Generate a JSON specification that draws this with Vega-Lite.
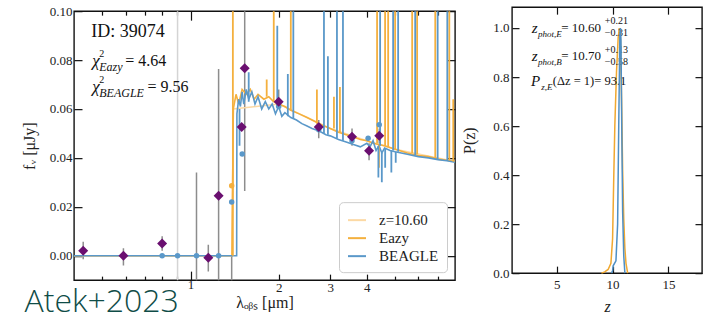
{
  "$schema": "https://vega.github.io/schema/vega-lite/v6.json",
  "background": "white",
  "padding": {"left": 20, "top": 4, "right": 5, "bottom": 4},
  "spacing": 4,
  "center": true,
  "resolve": {"scale": {"color": "independent"}, "legend": {"color": "independent"}},
  "title": {"text": "Atek+2023", "orient": "bottom", "anchor": "start", "frame": "bounds", "font": "Open Sans", "fontWeight": 300, "fontSize": 32, "color": "#0f4c47", "offset": -28, "dx": 4},
  "config": {
    "font": "Liberation Serif",
    "view": {"stroke": "#111111", "strokeWidth": 1.4},
    "axis": {"domain": false, "grid": false, "tickColor": "#111111", "tickWidth": 1.2, "labelFont": "Liberation Serif", "labelFontSize": 13, "labelColor": "#222222", "titleFont": "Liberation Serif", "titleFontSize": 16, "titleFontWeight": "normal", "titleColor": "#222222", "labelPadding": 10},
    "legend": {"orient": "bottom-right", "offset": 8, "fillColor": "white", "strokeColor": "#cccccc", "cornerRadius": 4, "padding": 8, "symbolType": "stroke", "symbolSize": 324, "symbolStrokeWidth": 2, "labelFont": "Liberation Serif", "labelFontSize": 15, "labelColor": "#222222", "labelOffset": 12, "rowPadding": 0}
  },
  "hconcat": [
    {
      "width": 381,
      "height": 269,
      "layer": [
        {
          "encoding": {
            "x": {"field": "lam", "type": "quantitative", "scale": {"type": "log", "domain": [0.4, 8], "nice": false},
              "axis": {"orient": "bottom", "values": [0.5, 0.6, 0.7, 0.8, 0.9, 1, 2, 3, 4, 5, 6, 7], "format": "~g", "labelExpr": "indexof([1,2,3,4], datum.value) >= 0 ? datum.label : ''", "tickSize": {"condition": [{"test": "datum.value == 1", "value": -9}, {"test": "datum.value >= 2 && datum.value <= 4", "value": -6}], "value": -4}, "labelPadding": 7, "title": "λₒᵦₛ [μm]", "titlePadding": 0}},
            "y": {"field": "f", "type": "quantitative", "scale": {"domain": [-0.01, 0.1], "nice": false, "zero": false},
              "axis": {"values": [0, 0.02, 0.04, 0.06, 0.08, 0.1], "format": ".2f", "tickSize": -8, "title": "fᵥ [μJy]", "titlePadding": 12}}
          },
          "layer": [
            {
              "data": {"values": [{"lam": 0.903, "f": -0.03, "f2": 0.13}]},
              "mark": {"type": "rule", "color": "#d4d4d4", "strokeWidth": 1.5, "clip": true},
              "encoding": {"y2": {"field": "f2"}}
            },
            {
              "data": {"values": [
                {"lam": 0.43, "f": -0.0015, "f2": 0.0057},
                {"lam": 0.59, "f": -0.004, "f2": 0.003},
                {"lam": 0.80, "f": 0.002, "f2": 0.008},
                {"lam": 1.048, "f": -0.03, "f2": 0.034},
                {"lam": 1.15, "f": -0.0065, "f2": 0.0045},
                {"lam": 1.247, "f": -0.03, "f2": 0.0763},
                {"lam": 1.382, "f": -0.03, "f2": 0.0},
                {"lam": 1.531, "f": 0.0265, "f2": 0.13},
                {"lam": 2.0, "f": 0.060, "f2": 0.068},
                {"lam": 2.74, "f": 0.048, "f2": 0.0555},
                {"lam": 3.56, "f": 0.045, "f2": 0.052},
                {"lam": 4.07, "f": 0.039, "f2": 0.046},
                {"lam": 4.41, "f": 0.046, "f2": 0.052}
              ]},
              "mark": {"type": "rule", "color": "#8d8d8d", "strokeWidth": 1.5, "clip": true},
              "encoding": {"y2": {"field": "f2"}}
            },
            {
              "data": {"values": [
                {"s": "z=10.60", "lam": 0.4, "f": 0.0},
                {"s": "z=10.60", "lam": 1.385, "f": 0.0},
                {"s": "z=10.60", "lam": 1.40, "f": 0.060},
                {"s": "z=10.60", "lam": 2.0, "f": 0.062},
                {"s": "z=10.60", "lam": 3.0, "f": 0.052},
                {"s": "z=10.60", "lam": 4.0, "f": 0.047},
                {"s": "z=10.60", "lam": 5.0, "f": 0.0435},
                {"s": "z=10.60", "lam": 8.0, "f": 0.0385},
                {"s": "Eazy", "lam": 0.4, "f": 0.0},
                {"s": "Eazy", "lam": 1.385, "f": 0.0},
                {"s": "Eazy", "lam": 1.40, "f": 0.060},
                {"s": "Eazy", "lam": 1.43, "f": 0.066},
                {"s": "Eazy", "lam": 1.46, "f": 0.062},
                {"s": "Eazy", "lam": 1.50, "f": 0.068},
                {"s": "Eazy", "lam": 1.55, "f": 0.066},
                {"s": "Eazy", "lam": 1.60, "f": 0.068},
                {"s": "Eazy", "lam": 1.65, "f": 0.064},
                {"s": "Eazy", "lam": 1.70, "f": 0.066},
                {"s": "Eazy", "lam": 1.78, "f": 0.064},
                {"s": "Eazy", "lam": 1.85, "f": 0.065},
                {"s": "Eazy", "lam": 1.92, "f": 0.063},
                {"s": "Eazy", "lam": 2.0, "f": 0.062},
                {"s": "Eazy", "lam": 2.1, "f": 0.061},
                {"s": "Eazy", "lam": 2.2, "f": 0.0595},
                {"s": "Eazy", "lam": 2.35, "f": 0.058},
                {"s": "Eazy", "lam": 2.5, "f": 0.0565},
                {"s": "Eazy", "lam": 2.65, "f": 0.055},
                {"s": "Eazy", "lam": 2.8, "f": 0.0535},
                {"s": "Eazy", "lam": 3.0, "f": 0.052},
                {"s": "Eazy", "lam": 3.2, "f": 0.0505},
                {"s": "Eazy", "lam": 3.4, "f": 0.0495},
                {"s": "Eazy", "lam": 3.6, "f": 0.0485},
                {"s": "Eazy", "lam": 3.8, "f": 0.0475},
                {"s": "Eazy", "lam": 4.0, "f": 0.047},
                {"s": "Eazy", "lam": 4.2, "f": 0.046},
                {"s": "Eazy", "lam": 4.4, "f": 0.0455},
                {"s": "Eazy", "lam": 4.6, "f": 0.045},
                {"s": "Eazy", "lam": 5.0, "f": 0.0435},
                {"s": "Eazy", "lam": 5.5, "f": 0.042},
                {"s": "Eazy", "lam": 6.0, "f": 0.041},
                {"s": "Eazy", "lam": 6.5, "f": 0.0405},
                {"s": "Eazy", "lam": 7.0, "f": 0.0395},
                {"s": "Eazy", "lam": 7.5, "f": 0.039},
                {"s": "Eazy", "lam": 8.0, "f": 0.0385},
                {"s": "BEAGLE", "lam": 0.4, "f": 0.0},
                {"s": "BEAGLE", "lam": 1.437, "f": 0.0},
                {"s": "BEAGLE", "lam": 1.44, "f": 0.058},
                {"s": "BEAGLE", "lam": 1.46, "f": 0.064},
                {"s": "BEAGLE", "lam": 1.48, "f": 0.061},
                {"s": "BEAGLE", "lam": 1.50, "f": 0.067},
                {"s": "BEAGLE", "lam": 1.52, "f": 0.062},
                {"s": "BEAGLE", "lam": 1.55, "f": 0.068},
                {"s": "BEAGLE", "lam": 1.58, "f": 0.064},
                {"s": "BEAGLE", "lam": 1.62, "f": 0.067},
                {"s": "BEAGLE", "lam": 1.66, "f": 0.062},
                {"s": "BEAGLE", "lam": 1.70, "f": 0.065},
                {"s": "BEAGLE", "lam": 1.75, "f": 0.060},
                {"s": "BEAGLE", "lam": 1.80, "f": 0.063},
                {"s": "BEAGLE", "lam": 1.85, "f": 0.060},
                {"s": "BEAGLE", "lam": 1.90, "f": 0.062},
                {"s": "BEAGLE", "lam": 1.95, "f": 0.058},
                {"s": "BEAGLE", "lam": 2.0, "f": 0.061},
                {"s": "BEAGLE", "lam": 2.05, "f": 0.057},
                {"s": "BEAGLE", "lam": 2.1, "f": 0.0585},
                {"s": "BEAGLE", "lam": 2.2, "f": 0.0565},
                {"s": "BEAGLE", "lam": 2.3, "f": 0.0555},
                {"s": "BEAGLE", "lam": 2.4, "f": 0.054},
                {"s": "BEAGLE", "lam": 2.5, "f": 0.053},
                {"s": "BEAGLE", "lam": 2.6, "f": 0.052},
                {"s": "BEAGLE", "lam": 2.75, "f": 0.051},
                {"s": "BEAGLE", "lam": 2.9, "f": 0.0495},
                {"s": "BEAGLE", "lam": 3.0, "f": 0.049},
                {"s": "BEAGLE", "lam": 3.2, "f": 0.0475},
                {"s": "BEAGLE", "lam": 3.4, "f": 0.0465},
                {"s": "BEAGLE", "lam": 3.6, "f": 0.0455},
                {"s": "BEAGLE", "lam": 3.8, "f": 0.0445},
                {"s": "BEAGLE", "lam": 4.0, "f": 0.046},
                {"s": "BEAGLE", "lam": 4.1, "f": 0.0445},
                {"s": "BEAGLE", "lam": 4.2, "f": 0.047},
                {"s": "BEAGLE", "lam": 4.3, "f": 0.043},
                {"s": "BEAGLE", "lam": 4.4, "f": 0.045},
                {"s": "BEAGLE", "lam": 4.5, "f": 0.042},
                {"s": "BEAGLE", "lam": 4.6, "f": 0.044},
                {"s": "BEAGLE", "lam": 4.8, "f": 0.043},
                {"s": "BEAGLE", "lam": 5.0, "f": 0.0425},
                {"s": "BEAGLE", "lam": 5.5, "f": 0.0415},
                {"s": "BEAGLE", "lam": 6.0, "f": 0.0405},
                {"s": "BEAGLE", "lam": 6.5, "f": 0.040},
                {"s": "BEAGLE", "lam": 7.0, "f": 0.0393},
                {"s": "BEAGLE", "lam": 7.5, "f": 0.0388},
                {"s": "BEAGLE", "lam": 8.0, "f": 0.0382}
              ]},
              "mark": {"type": "line", "strokeWidth": 1.6, "clip": true},
              "encoding": {
                "color": {"field": "s", "type": "nominal", "scale": {"domain": ["z=10.60", "Eazy", "BEAGLE"], "range": ["#fcd9a4", "#f4b03e", "#5a98c9"]}, "legend": {"title": null, "orient": "bottom-right"}},
                "order": {"field": "lam", "type": "quantitative"}
              }
            },
            {
              "data": {"values": [
                {"s": "Eazy", "lam": 1.395, "f": 0.0, "f2": 0.13},
                {"s": "Eazy", "lam": 1.82, "f": 0.065, "f2": 0.072},
                {"s": "Eazy", "lam": 1.924, "f": 0.063, "f2": 0.13},
                {"s": "Eazy", "lam": 2.2, "f": 0.0595, "f2": 0.13},
                {"s": "Eazy", "lam": 2.701, "f": 0.054, "f2": 0.068},
                {"s": "Eazy", "lam": 3.088, "f": 0.052, "f2": 0.065},
                {"s": "Eazy", "lam": 3.237, "f": 0.0505, "f2": 0.069},
                {"s": "Eazy", "lam": 4.335, "f": 0.046, "f2": 0.13},
                {"s": "Eazy", "lam": 4.4, "f": 0.0455, "f2": 0.036},
                {"s": "Eazy", "lam": 4.617, "f": 0.045, "f2": 0.13},
                {"s": "Eazy", "lam": 4.73, "f": 0.0445, "f2": 0.13},
                {"s": "Eazy", "lam": 4.996, "f": 0.0435, "f2": 0.13},
                {"s": "Eazy", "lam": 5.713, "f": 0.042, "f2": 0.13},
                {"s": "Eazy", "lam": 5.94, "f": 0.0415, "f2": 0.13},
                {"s": "Eazy", "lam": 6.85, "f": 0.040, "f2": 0.13},
                {"s": "Eazy", "lam": 7.65, "f": 0.039, "f2": 0.13},
                {"s": "Eazy", "lam": 7.89, "f": 0.0385, "f2": 0.064},
                {"s": "BEAGLE", "lam": 1.47, "f": 0.06, "f2": 0.045},
                {"s": "BEAGLE", "lam": 1.58, "f": 0.063, "f2": 0.075},
                {"s": "BEAGLE", "lam": 1.978, "f": 0.061, "f2": 0.094},
                {"s": "BEAGLE", "lam": 2.149, "f": 0.057, "f2": 0.0743},
                {"s": "BEAGLE", "lam": 2.244, "f": 0.056, "f2": 0.13},
                {"s": "BEAGLE", "lam": 2.855, "f": 0.050, "f2": 0.13},
                {"s": "BEAGLE", "lam": 2.945, "f": 0.0495, "f2": 0.0816},
                {"s": "BEAGLE", "lam": 3.162, "f": 0.048, "f2": 0.13},
                {"s": "BEAGLE", "lam": 3.315, "f": 0.047, "f2": 0.13},
                {"s": "BEAGLE", "lam": 4.38, "f": 0.045, "f2": 0.032},
                {"s": "BEAGLE", "lam": 4.44, "f": 0.045, "f2": 0.13},
                {"s": "BEAGLE", "lam": 4.5, "f": 0.042, "f2": 0.030},
                {"s": "BEAGLE", "lam": 4.62, "f": 0.044, "f2": 0.036},
                {"s": "BEAGLE", "lam": 4.85, "f": 0.043, "f2": 0.034},
                {"s": "BEAGLE", "lam": 4.918, "f": 0.043, "f2": 0.13},
                {"s": "BEAGLE", "lam": 5.02, "f": 0.0425, "f2": 0.038},
                {"s": "BEAGLE", "lam": 5.116, "f": 0.0425, "f2": 0.13},
                {"s": "BEAGLE", "lam": 5.85, "f": 0.041, "f2": 0.13},
                {"s": "BEAGLE", "lam": 6.98, "f": 0.0393, "f2": 0.13},
                {"s": "BEAGLE", "lam": 7.53, "f": 0.0388, "f2": 0.13}
              ]},
              "mark": {"type": "rule", "strokeWidth": 1.8, "clip": true},
              "encoding": {
                "y2": {"field": "f2"},
                "color": {"field": "s", "type": "nominal", "scale": {"domain": ["z=10.60", "Eazy", "BEAGLE"], "range": ["#fcd9a4", "#f4b03e", "#5a98c9"]}}
              }
            },
            {
              "data": {"values": [
                {"s": "BEAGLE", "lam": 0.80, "f": 0.0},
                {"s": "BEAGLE", "lam": 0.903, "f": 0.0},
                {"s": "BEAGLE", "lam": 1.048, "f": 0.0},
                {"s": "BEAGLE", "lam": 1.247, "f": 0.0},
                {"s": "Eazy", "lam": 1.382, "f": 0.0286},
                {"s": "BEAGLE", "lam": 1.382, "f": 0.022},
                {"s": "BEAGLE", "lam": 1.501, "f": 0.0416},
                {"s": "BEAGLE", "lam": 2.0, "f": 0.061},
                {"s": "BEAGLE", "lam": 2.74, "f": 0.0515},
                {"s": "BEAGLE", "lam": 3.56, "f": 0.047},
                {"s": "BEAGLE", "lam": 4.04, "f": 0.048},
                {"s": "BEAGLE", "lam": 4.41, "f": 0.0535}
              ]},
              "mark": {"type": "circle", "size": 30, "opacity": 1, "clip": true},
              "encoding": {
                "color": {"field": "s", "type": "nominal", "scale": {"domain": ["z=10.60", "Eazy", "BEAGLE"], "range": ["#fcd9a4", "#f4b03e", "#5a98c9"]}}
              }
            },
            {
              "data": {"values": [{"lam": 0.458, "f": 0.0914, "t": "ID: 39074"}]},
              "mark": {"type": "text", "align": "left", "baseline": "middle", "font": "Liberation Serif", "fontSize": 18, "color": "#111111"},
              "encoding": {"text": {"field": "t"}}
            },
            {
              "data": {"values": [{"lam": 0.4618, "f": 0.0796, "t": "χ"}, {"lam": 0.4618, "f": 0.069, "t": "χ"}]},
              "mark": {"type": "text", "align": "left", "baseline": "middle", "font": "Liberation Serif", "fontStyle": "italic", "fontSize": 17, "color": "#111111"},
              "encoding": {"text": {"field": "t"}}
            },
            {
              "data": {"values": [{"lam": 0.488, "f": 0.0825, "t": "2"}, {"lam": 0.488, "f": 0.0718, "t": "2"}]},
              "mark": {"type": "text", "align": "left", "baseline": "middle", "font": "Liberation Serif", "fontSize": 10, "color": "#111111"},
              "encoding": {"text": {"field": "t"}}
            },
            {
              "data": {"values": [{"lam": 0.488, "f": 0.0771, "t": "Eazy"}, {"lam": 0.488, "f": 0.0665, "t": "BEAGLE"}]},
              "mark": {"type": "text", "align": "left", "baseline": "middle", "font": "Liberation Serif", "fontStyle": "italic", "fontSize": 12, "color": "#111111"},
              "encoding": {"text": {"field": "t"}}
            },
            {
              "data": {"values": [{"lam": 0.5989, "f": 0.0796, "t": "= 4.64"}, {"lam": 0.7123, "f": 0.069, "t": "= 9.56"}]},
              "mark": {"type": "text", "align": "left", "baseline": "middle", "font": "Liberation Serif", "fontSize": 16, "color": "#111111"},
              "encoding": {"text": {"field": "t"}}
            }
          ]
        },
        {
          "data": {"values": [
            {"lam": 0.43, "f": 0.002}, {"lam": 0.59, "f": 0.0}, {"lam": 0.80, "f": 0.005},
            {"lam": 1.15, "f": -0.0008}, {"lam": 1.247, "f": 0.0245}, {"lam": 1.495, "f": 0.0526},
            {"lam": 1.531, "f": 0.0767}, {"lam": 2.0, "f": 0.063}, {"lam": 2.74, "f": 0.0526},
            {"lam": 3.56, "f": 0.0486}, {"lam": 4.07, "f": 0.0429}, {"lam": 4.41, "f": 0.049}
          ]},
          "mark": {"type": "point", "shape": "diamond", "filled": true, "color": "#6a0f70", "size": 100, "opacity": 1, "clip": true},
          "encoding": {
            "x": {"field": "lam", "type": "quantitative", "scale": {"type": "log", "domain": [0.4, 8], "nice": false},
              "axis": {"orient": "top", "labels": false, "title": null, "values": [0.5, 0.6, 0.7, 0.8, 0.9, 1, 2, 3, 4, 5, 6, 7], "tickSize": {"condition": [{"test": "datum.value == 1", "value": -9}, {"test": "datum.value >= 2 && datum.value <= 4", "value": -6}], "value": -4}}},
            "y": {"field": "f", "type": "quantitative", "scale": {"domain": [-0.01, 0.1], "nice": false, "zero": false},
              "axis": {"orient": "right", "labels": false, "title": null, "values": [0, 0.02, 0.04, 0.06, 0.08, 0.1], "tickSize": -8}}
          }
        }
      ],
      "resolve": {"axis": {"x": "independent", "y": "independent"}}
    },
    {
      "width": 190,
      "height": 266,
      "layer": [
        {
          "encoding": {
            "x": {"field": "z", "type": "quantitative", "scale": {"domain": [1, 18], "nice": false, "zero": false},
              "axis": {"orient": "bottom", "values": [5, 10, 15], "tickSize": -7, "labelPadding": 12, "title": "z", "titleFontStyle": "italic", "titlePadding": 7}},
            "y": {"field": "p", "type": "quantitative", "scale": {"domain": [0, 1.085], "nice": false},
              "axis": {"values": [0, 0.2, 0.4, 0.6, 0.8, 1.0], "format": ".1f", "tickSize": -7, "title": "P(z)", "titlePadding": 15}}
          },
          "layer": [
            {
              "data": {"values": [
                {"z": 9.0, "p": 0.0}, {"z": 9.3, "p": 0.005}, {"z": 9.6, "p": 0.015}, {"z": 9.85, "p": 0.04},
                {"z": 10.0, "p": 0.14}, {"z": 10.1, "p": 0.38}, {"z": 10.2, "p": 0.6}, {"z": 10.35, "p": 0.82},
                {"z": 10.5, "p": 0.96}, {"z": 10.6, "p": 1.0}, {"z": 10.7, "p": 0.96}, {"z": 10.8, "p": 0.72},
                {"z": 10.9, "p": 0.42}, {"z": 11.0, "p": 0.22}, {"z": 11.1, "p": 0.1}, {"z": 11.2, "p": 0.04},
                {"z": 11.35, "p": 0.0}
              ]},
              "layer": [
                {"mark": {"type": "area", "color": "#f2ea55", "opacity": 0.9}, "encoding": {"order": {"field": "z", "type": "quantitative"}}},
                {"mark": {"type": "line", "color": "#f0a830", "strokeWidth": 1.5}, "encoding": {"order": {"field": "z", "type": "quantitative"}}}
              ]
            },
            {
              "data": {"values": [
                {"z": 2.76, "p": 0.999, "t": "z"}, {"z": 2.76, "p": 0.885, "t": "z"}, {"z": 2.7, "p": 0.783, "t": "P"}
              ]},
              "mark": {"type": "text", "align": "left", "baseline": "middle", "font": "Liberation Serif", "fontStyle": "italic", "fontSize": 15, "color": "#111111"},
              "encoding": {"text": {"field": "t"}}
            },
            {
              "data": {"values": [
                {"z": 3.33, "p": 0.975, "t": "phot,E"}, {"z": 3.33, "p": 0.861, "t": "phot,B"}, {"z": 3.62, "p": 0.76, "t": "z,E"}
              ]},
              "mark": {"type": "text", "align": "left", "baseline": "middle", "font": "Liberation Serif", "fontStyle": "italic", "fontSize": 9, "color": "#111111"},
              "encoding": {"text": {"field": "t"}}
            },
            {
              "data": {"values": [
                {"z": 5.4, "p": 0.999, "t": "= 10.60"}, {"z": 5.4, "p": 0.885, "t": "= 10.70"}
              ]},
              "mark": {"type": "text", "align": "left", "baseline": "middle", "font": "Liberation Serif", "fontSize": 13, "color": "#111111"},
              "encoding": {"text": {"field": "t"}}
            },
            {
              "data": {"values": [
                {"z": 4.65, "p": 0.783, "t": "(Δz = 1)= 93.1"}
              ]},
              "mark": {"type": "text", "align": "left", "baseline": "middle", "font": "Liberation Serif", "fontSize": 12.5, "color": "#111111"},
              "encoding": {"text": {"field": "t"}}
            },
            {
              "data": {"values": [
                {"z": 9.3, "p": 1.028, "t": "+0.21"}, {"z": 9.3, "p": 0.979, "t": "−0.31"},
                {"z": 9.3, "p": 0.912, "t": "+0.13"}, {"z": 9.3, "p": 0.861, "t": "−0.58"}
              ]},
              "mark": {"type": "text", "align": "left", "baseline": "middle", "font": "Liberation Serif", "fontSize": 10, "color": "#111111"},
              "encoding": {"text": {"field": "t"}}
            }
          ]
        },
        {
          "data": {"values": [
            {"z": 9.9, "p": 0.0}, {"z": 10.0, "p": 0.01}, {"z": 10.05, "p": 0.03}, {"z": 10.3, "p": 0.05},
            {"z": 10.45, "p": 0.2}, {"z": 10.55, "p": 0.6}, {"z": 10.65, "p": 0.97}, {"z": 10.7, "p": 1.0},
            {"z": 10.75, "p": 0.95}, {"z": 10.82, "p": 0.6}, {"z": 10.9, "p": 0.25}, {"z": 11.0, "p": 0.07},
            {"z": 11.1, "p": 0.0}
          ]},
          "mark": {"type": "line", "color": "#4f8fc4", "strokeWidth": 1.5},
          "encoding": {
            "x": {"field": "z", "type": "quantitative", "scale": {"domain": [1, 18], "nice": false, "zero": false},
              "axis": {"orient": "top", "labels": false, "title": null, "values": [5, 10, 15], "tickSize": -7}},
            "y": {"field": "p", "type": "quantitative", "scale": {"domain": [0, 1.085], "nice": false},
              "axis": {"orient": "right", "labels": false, "title": null, "values": [0, 0.2, 0.4, 0.6, 0.8, 1.0], "tickSize": -7}},
            "order": {"field": "z", "type": "quantitative"}
          }
        }
      ],
      "resolve": {"axis": {"x": "independent", "y": "independent"}}
    }
  ]
}
